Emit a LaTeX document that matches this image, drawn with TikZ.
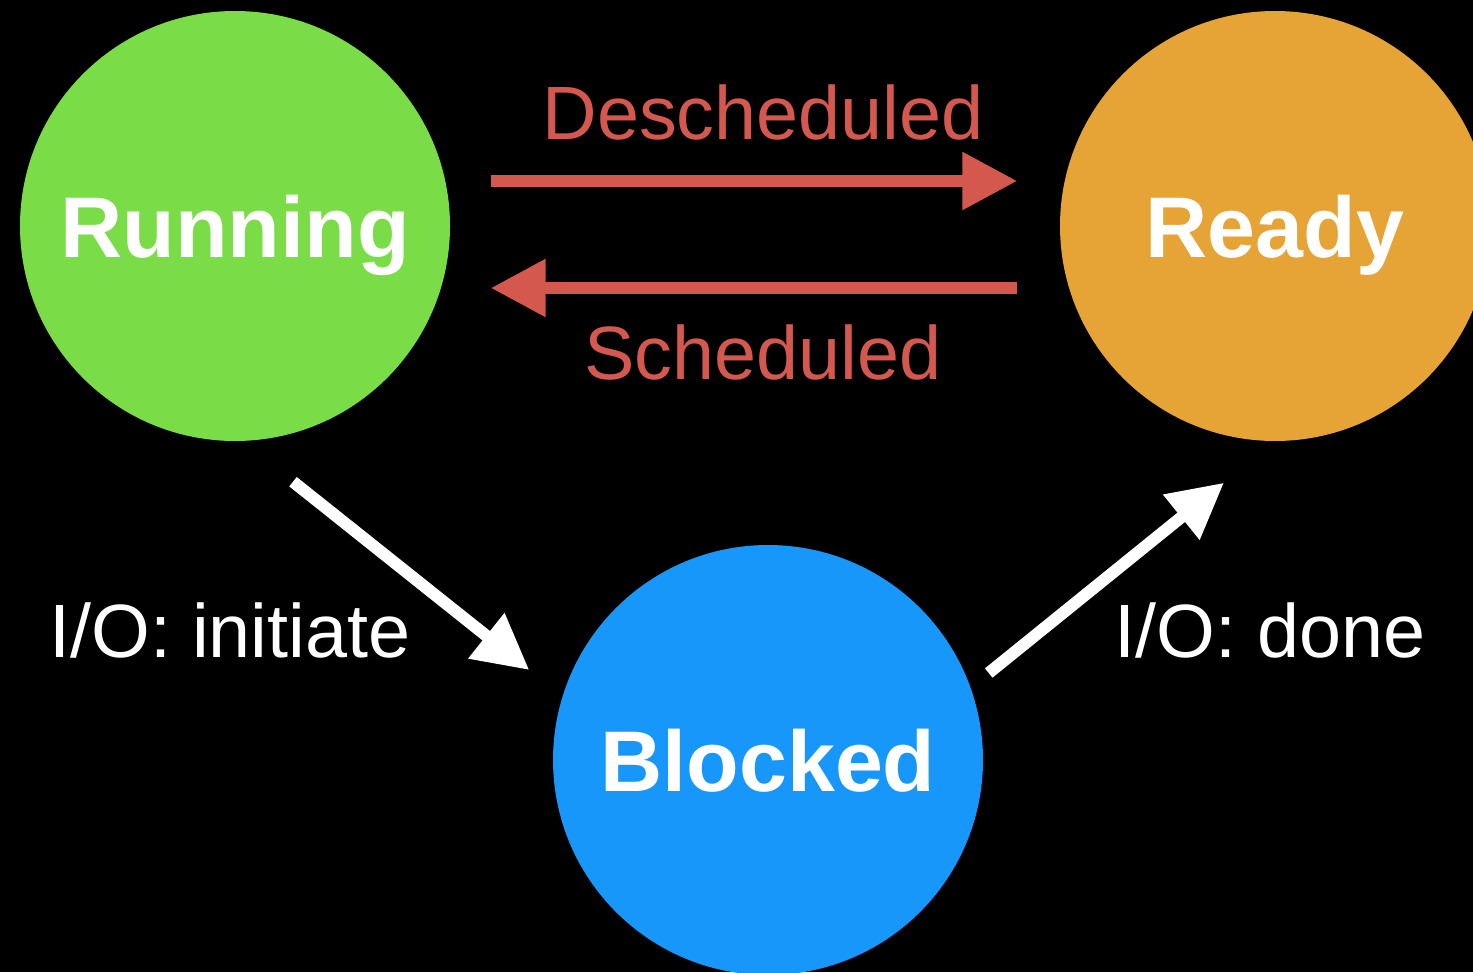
\documentclass[tikz,border=0pt]{standalone}
\usepackage{fontspec}
\setmainfont{Liberation Sans}
\usetikzlibrary{positioning,arrows.meta}
\definecolor{runcol}{HTML}{7ADD48}
\definecolor{readycol}{HTML}{E6A336}
\definecolor{blockcol}{HTML}{1797F9}
\definecolor{transcol}{HTML}{D5584F}
\tikzset{
    state/.style={circle, minimum size=4.3cm, inner sep=0pt, text=white,
        font=\fontsize{24.5}{28}\selectfont\bfseries, text depth=0pt},
    move/.style={line width=0.12cm, -{Triangle[length=0.55cm,width=0.55cm]}},
    lbl/.style={font=\fontsize{21.5}{25}\selectfont},
}
\begin{document}
\begin{tikzpicture}
        \useasboundingbox (0,0) rectangle (14.73,9.72);
        \clip (0,0) rectangle (14.73,9.72);
        \fill[black] (0,0) rectangle (14.73,9.72);
        % states
        \node[state, fill=runcol]   (run)   at (2.35,7.46)  {Running};
        \node[state, fill=readycol] (ready) at (12.75,7.46) {Ready};
        \node[state, fill=blockcol] (block) at (7.68,2.12)  {Blocked};
        % labels
        \node[lbl, text=transcol] (desc)  at (7.63,8.60) {Descheduled};
        \node[lbl, text=transcol] (sched) at (7.63,6.20) {Scheduled};
        \node[lbl, text=white]    (ioin)  at (2.30,3.42) {I/O: initiate};
        \node[lbl, text=white]    (iodn)  at (12.70,3.42) {I/O: done};
        % transitions
        \draw[move, transcol, shorten <=0.4cm, shorten >=0.42cm]
            ([yshift=0.45cm]run.east) -- ([yshift=0.45cm]ready.west);
        \draw[move, transcol, shorten <=0.42cm, shorten >=0.4cm]
            ([yshift=-0.62cm]ready.west) -- ([yshift=-0.62cm]run.east);
        \draw[move, white] ([shift={(0.58,-0.40)}]run.south) -- ([shift={(-0.23,0.90)}]block.west);
        % \draw[move, white] (block) -- (ready);
        \draw[move, white] ([shift={(0.05,0.87)}]block.east) -- ([shift={(-0.51,-0.41)}]ready.south);
    \end{tikzpicture}
\end{document}
